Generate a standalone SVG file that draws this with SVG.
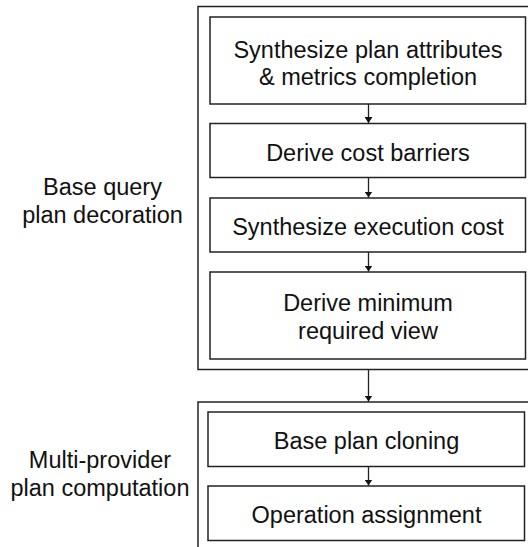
<svg xmlns="http://www.w3.org/2000/svg" width="528" height="547" viewBox="0 0 528 547">
  <style>
    .frame { fill: none; stroke: #222; stroke-width: 1.5; }
    .box { fill: #fff; stroke: #222; stroke-width: 1.5; }
    .lbl { font-family: "Liberation Sans", Arial, sans-serif; font-size: 23.5px; fill: #111; text-anchor: middle; }
    .edge { stroke: #222; stroke-width: 1.3; fill: none; marker-end: url(#arrow); }
  </style>
  <defs>
    <marker id="arrow" viewBox="0 0 6 8" refX="6" refY="4" markerWidth="6" markerHeight="8" markerUnits="userSpaceOnUse" orient="auto">
      <path d="M0,0 L6,4 L0,8 z" fill="#111"/>
    </marker>
  </defs>
  <rect width="528" height="547" fill="#fff"/>

  <!-- stage 1: base query plan decoration -->
  <g id="stage-decoration">
    <rect class="frame" x="198" y="6.5" width="345" height="363"/>
    <text class="lbl" x="102.5" y="195">Base query</text>
    <text class="lbl" x="102.5" y="223">plan decoration</text>
  </g>

  <g id="step-attributes">
    <rect class="box" x="210" y="17" width="315.5" height="87"/>
    <text class="lbl" x="368" y="57.5">Synthesize plan attributes</text>
    <text class="lbl" x="368" y="85">&amp; metrics completion</text>
  </g>

  <g id="step-barriers">
    <rect class="box" x="210" y="123.5" width="315.5" height="54"/>
    <text class="lbl" x="368" y="160.5">Derive cost barriers</text>
  </g>

  <g id="step-cost">
    <rect class="box" x="210" y="198" width="315.5" height="54"/>
    <text class="lbl" x="368" y="235">Synthesize execution cost</text>
  </g>

  <g id="step-view">
    <rect class="box" x="210" y="272" width="315.5" height="87"/>
    <text class="lbl" x="368" y="311">Derive minimum</text>
    <text class="lbl" x="368" y="339">required view</text>
  </g>

  <!-- stage 2: multi-provider plan computation -->
  <g id="stage-computation">
    <rect class="frame" x="198" y="402" width="345" height="160"/>
    <text class="lbl" x="100" y="468">Multi-provider</text>
    <text class="lbl" x="100" y="496">plan computation</text>
  </g>

  <g id="step-cloning">
    <rect class="box" x="208" y="412" width="316.5" height="54.5"/>
    <text class="lbl" x="366.5" y="449">Base plan cloning</text>
  </g>

  <g id="step-assignment">
    <rect class="box" x="208" y="486" width="316.5" height="54.5"/>
    <text class="lbl" x="366.5" y="523">Operation assignment</text>
  </g>

  <g id="connectors">
    <line class="edge" x1="368.5" y1="104" x2="368.5" y2="123"/>
    <line class="edge" x1="368.5" y1="177.5" x2="368.5" y2="197.5"/>
    <line class="edge" x1="368.5" y1="252" x2="368.5" y2="271.5"/>
    <line class="edge" x1="368.5" y1="369.5" x2="368.5" y2="401.5"/>
    <line class="edge" x1="368.5" y1="466.5" x2="368.5" y2="485.5"/>
  </g>
</svg>
